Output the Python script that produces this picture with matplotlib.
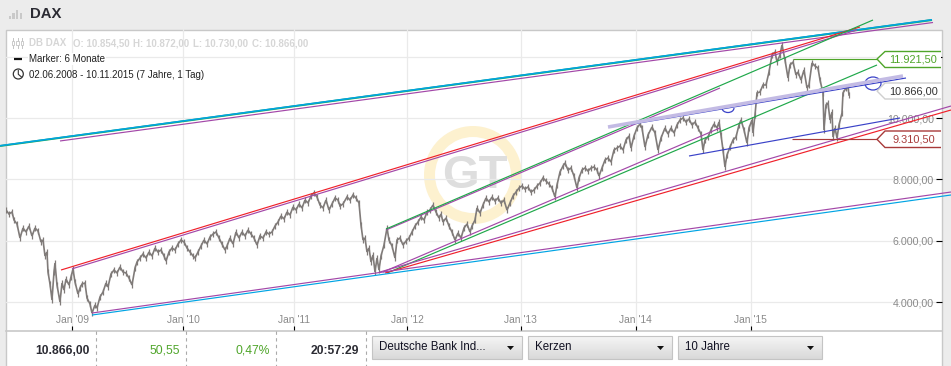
"""DAX 2008-2015 chart with hand drawn trend channels."""
import matplotlib
matplotlib.use('Agg')
import matplotlib.pyplot as plt
import matplotlib.patches as mpatches
import numpy as np

plt.rcParams['font.family'] = ['Liberation Sans', 'DejaVu Sans']

# --- Price series, x is position on the session axis ---
sessions = [
    0, 6, 12, 16, 22, 28, 34, 40, 46, 52, 58, 64, 70, 74, 78, 82, 84, 88, 92, 96,
    98, 102, 108, 112, 116, 120, 126, 130, 134, 138, 144, 148, 152, 158, 162, 168, 172, 178, 182, 188,
    194, 200, 204, 210, 216, 222, 228, 234, 240, 246, 252, 258, 262, 268, 274, 280, 286, 292, 298, 304,
    310, 316, 320, 326, 332, 338, 344, 350, 356, 362, 368, 374, 378, 384, 390, 396, 402, 408, 414, 420,
    426, 432, 438, 442, 448, 454, 460, 466, 472, 478, 484, 490, 496, 502, 508, 514, 520, 526, 532, 538,
    544, 550, 556, 562, 568, 574, 580, 586, 592, 598, 604, 610, 616, 622, 628, 634, 640, 646, 652, 658,
    664, 668, 674, 682, 688, 694, 700, 706, 710, 714, 718, 722, 726, 730, 734, 738, 742, 746, 750, 756,
    762, 766, 772, 778, 782, 788, 794, 800, 806, 812, 818, 824, 830, 836, 842, 848, 854, 860, 866, 870,
    874, 880, 886, 892, 898, 904, 910, 916, 922, 928, 932, 938, 942, 948, 954, 960, 966, 972, 978, 984,
    990, 996, 1002, 1008, 1014, 1020, 1026, 1032, 1038, 1044, 1050, 1056, 1062, 1068, 1074, 1080, 1086, 1092, 1098, 1102,
    1108, 1114, 1118, 1124, 1130, 1136, 1142, 1146, 1152, 1158, 1164, 1170, 1176, 1182, 1186, 1192, 1198, 1204, 1210, 1216,
    1222, 1228, 1234, 1240, 1246, 1250, 1256, 1262, 1268, 1272, 1278, 1284, 1292, 1298, 1304, 1310, 1318, 1324, 1330, 1336,
    1342, 1348, 1354, 1360, 1366, 1372, 1378, 1384, 1390, 1394, 1398, 1404, 1410, 1416, 1422, 1426, 1430, 1434, 1438, 1442,
    1448, 1454, 1460, 1466, 1470, 1476, 1482, 1486, 1492, 1494, 1498, 1502, 1508, 1514, 1520, 1526, 1532, 1538, 1542, 1548,
    1552, 1558, 1564, 1568, 1574, 1580, 1584, 1590, 1596, 1602, 1606, 1612, 1618, 1624, 1628, 1634, 1636, 1640, 1644, 1648,
    1652, 1654, 1658, 1662, 1666, 1672, 1674, 1680, 1684, 1686,
]
closes = [
    7006, 6876, 6941, 6680, 6550, 6094, 6420, 6290, 6485, 6159, 6420, 6322, 5964, 6029, 5508, 5638, 4987, 4596, 4075, 4987,
    5280, 4563, 4010, 4628, 4400, 4759, 4563, 4824, 5085, 4661, 4270, 4466, 4596, 4628, 4140, 3945, 3650, 3912, 3814, 4173,
    4335, 4628, 4498, 4922, 5052, 4954, 5150, 4987, 4954, 4791, 4563, 5117, 5313, 5443, 5573, 5443, 5638, 5508, 5768, 5638,
    5703, 5508, 5345, 5638, 5768, 5703, 5899, 6029, 5964, 5768, 5638, 5508, 5443, 5638, 5833, 6029, 5899, 6127, 6224, 6290,
    6094, 5899, 5703, 5833, 6094, 5899, 6290, 6094, 6290, 6159, 6355, 6224, 6094, 5866, 6159, 6094, 6290, 6224, 6290, 6485,
    6615, 6811, 6713, 6941, 6843, 7104, 7006, 7202, 7072, 7332, 7234, 7462, 7560, 7430, 7169, 7072, 7332, 7006, 7202, 7397,
    7332, 7137, 7202, 7430, 7332, 7495, 7397, 7234, 6517, 6029, 6094, 5638, 5768, 5313, 5541, 4987, 5443, 5052, 5508, 5866,
    6420, 6029, 5833, 5443, 6029, 6094, 5866, 5996, 6094, 6290, 6485, 6615, 6778, 6680, 6941, 7006, 7169, 6941, 6746, 6876,
    6615, 6746, 6485, 6290, 6029, 6257, 6094, 6420, 6550, 6290, 6485, 6680, 7072, 6908, 7169, 7397, 7267, 7430, 7300, 7397,
    7234, 7332, 7006, 7234, 7462, 7593, 7723, 7788, 7690, 7755, 7593, 7658, 7788, 7886, 8049, 7951, 7853, 7723, 7430, 7821,
    8244, 8440, 8537, 8309, 8374, 8114, 7723, 8049, 8309, 8374, 8277, 8374, 8407, 8309, 8114, 8374, 8635, 8700, 8570, 8960,
    9025, 9090, 8960, 9286, 9416, 9025, 9416, 9677, 9808, 9677, 9057, 9449, 9710, 9514, 8960, 9351, 9677, 9481, 9677, 9514,
    9775, 9938, 10003, 9873, 9971, 9775, 9873, 9677, 9481, 8960, 9286, 9384, 9612, 9808, 9677, 9873, 9449, 8960, 8407, 8798,
    9057, 9286, 9384, 9775, 9938, 9612, 9188, 9677, 9938, 9514, 10100, 10817, 10850, 11078, 11078, 11502, 12055, 12152, 11827, 12055,
    12380, 11892, 11306, 11729, 11827, 11404, 11501, 11240, 11566, 10980, 11078, 11795, 11696, 11631, 11240, 10817, 9612, 10426, 10491, 9938,
    10198, 9384, 9677, 9351, 9775, 10166, 10817, 10980, 11013, 10752,
]

# --- Trend lines: start session, end session, start value, end value ---
teal_top = [-12, 1852, 9091, 13194]
purple_top = [108, 1854, 9254, 13113]
red_top = [110, 1708, 5052, 12967]
purple_top2 = [132, 1702, 5090, 12869]
green_upper = [760, 1734, 6387, 13194]
purple_upper = [760, 1428, 6355, 10980]
green_lower = [762, 1742, 4954, 11729]
purple_lower = [754, 1428, 4987, 9677]
red_low = [758, 1890, 4954, 10263]
purple_low = [748, 1890, 4987, 10393]
teal_bottom = [172, 1890, 3586, 7495]
purple_bottom = [172, 1890, 3651, 7592]
blue_upper = [1248, 1800, 9791, 11305]
lavender = [1204, 1794, 9709, 11371]
blue_lower = [1366, 1788, 8765, 10003]
high_line = [1574, 1744, 11921.5, 11921.5]
low_line = [1572, 1744, 9310.5, 9310.5]

year_pos = [132, 354, 576, 802, 1029, 1259, 1489]
year_labels = ["Jan '09", "Jan '10", "Jan '11", "Jan '12", "Jan '13", "Jan '14", "Jan '15"]
y_ticks = [4000, 6000, 8000, 10000, 12000]
y_labels = ['4.000,00', '6.000,00', '8.000,00', '10.000,00', '']

GREY = '#8a8a8a'
GREEN = '#4fa52a'
RED = '#a83a3a'
DARK = '#2b2b33'
PAGE = '#ececec'
EDGE = '#c8c8c8'

W, H = 951, 366
fig = plt.figure(figsize=(W / 100, H / 100), dpi=100, facecolor=PAGE)

# --- Page furniture, in pixels ---
page = fig.add_axes([0, 0, 1, 1], zorder=0)
page.axis('off')
page.add_patch(mpatches.Rectangle((5.5, 29.5), 936.5, 340, fc='white', ec=EDGE, lw=1))
page.plot([5.5, 942], [330.5, 330.5], color=EDGE, lw=1.2)
for x, h in zip([9, 12.3, 16, 20], [3.5, 6.5, 9.5, 6.5]):
    page.add_patch(mpatches.Rectangle((x, 19 - h), 2.4, h, fc='#c9c9c9', ec='none'))
page.text(30, 14, 'DAX', fontsize=10.7, fontweight='bold', color=DARK, va='center')

# watermark
page.add_patch(mpatches.Annulus((473, 175), 49, 11, fc='#fdf1cf', ec='none'))
page.text(475, 176, 'GT', fontsize=34, fontweight='bold', color='#dedede', ha='center', va='center')

# bottom strip
for x in [95.5, 185.5, 275.5, 365.5]:
    page.plot([x, x], [331, 366], color='#aaaaaa', lw=0.8, ls=(0, (3, 3)))
page.text(89.5, 350.5, '10.866,00', fontsize=8.7, fontweight='bold', color=DARK, ha='right', va='center')
page.text(180, 350.5, '50,55', fontsize=8.7, color=GREEN, ha='right', va='center')
page.text(269.5, 350.5, '0,47%', fontsize=8.7, color=GREEN, ha='right', va='center')
page.text(359.5, 350.5, '20:57:29', fontsize=8.7, fontweight='bold', color=DARK, ha='right', va='center')

grad = np.linspace(0.96, 0.85, 32).reshape(-1, 1)
buttons = [(372, 522, 'Deutsche Bank Ind...'), (528, 672, 'Kerzen'), (678, 822, '10 Jahre')]
for left, right, label in buttons:
    page.imshow(grad, extent=(left, right, 359, 336), cmap='gray', vmin=0, vmax=1, aspect='auto', zorder=2)
    page.add_patch(mpatches.Rectangle((left, 336), right - left, 23, fc='none', ec='#c4c4c4', lw=0.8, zorder=3))
    page.text(left + 7, 347.5, label, fontsize=8.3, color='#111122', va='center', zorder=4)
    page.add_patch(mpatches.Polygon([(right - 15, 346), (right - 8, 346), (right - 11.5, 350)],
                                    fc='#111111', ec='none', zorder=4))
page.set_xlim(0, W)
page.set_ylim(H, 0)

# --- Chart area ---
ax = fig.add_axes([6 / W, 1 - 330 / H, 936 / W, 301 / H], zorder=1)
ax.patch.set_alpha(0)
ax.set_xlim(0, 1872)
ax.set_ylim(3098, 12901)
for spine in ax.spines.values():
    spine.set_visible(False)
ax.set_xticks(year_pos)
ax.set_xticklabels(year_labels, fontsize=7.4, color=GREY)
ax.set_yticks(y_ticks)
ax.set_yticklabels(y_labels, fontsize=7.7, color=GREY, ha='right')
ax.yaxis.tick_right()
ax.tick_params(axis='x', direction='in', length=2.9, width=0.8, pad=-10.6, color='black')
ax.tick_params(axis='y', direction='in', length=4.3, width=0.8, pad=-5.8, color='black')
ax.grid(True, color='#eaeaea', lw=0.9)
ax.set_axisbelow(True)


def trend(line, color, lw=0.85, z=3):
    ax.plot(line[:2], line[2:], color=color, lw=lw, zorder=z, clip_on=False, solid_capstyle='butt')


ax.plot(sessions, closes, color='#807b79', lw=1.2, marker='|', ms=4, mew=0.9, zorder=2, solid_joinstyle='miter')

PURPLE = '#a347a8'
RED_L = '#f0202a'
GREEN_L = '#1fa84a'
TEAL = '#00a4e4'
BLUE = '#3a42c8'
trend(purple_top, PURPLE)
trend(teal_top, GREEN_L, lw=1.4)
trend([teal_top[0], teal_top[1], teal_top[2] + 8, teal_top[3] + 8], TEAL, lw=1.15)
trend(purple_top2, PURPLE)
trend(red_top, RED_L)
trend(purple_upper, PURPLE)
trend(green_upper, GREEN_L)
trend(purple_lower, PURPLE)
trend(green_lower, GREEN_L)
trend(purple_low, PURPLE)
trend(red_low, RED_L)
trend(purple_bottom, PURPLE)
trend(teal_bottom, TEAL)
trend(blue_lower, BLUE)
trend(blue_upper, BLUE, z=3)
ax.add_patch(mpatches.Arc((728, 108), 12, 9, theta1=0, theta2=180, ec=BLUE, lw=0.9,
                          transform=page.transData, zorder=3))
ax.add_patch(mpatches.Ellipse((873, 83.5), 16, 13, fc='none', ec=BLUE, lw=0.9, transform=page.transData, zorder=3))
trend(lavender, '#c3bbe4', lw=2.6, z=4)
trend(high_line, GREEN, z=5)
trend(low_line, RED, z=5)


# --- Price labels at the right edge ---
def price_tag(y, text, color, edge, top, bottom):
    tip = (877, y)
    ax.add_patch(mpatches.Polygon([(941, top), (885, top), tip, (885, bottom), (941, bottom)], closed=False,
                                  fc='white', ec=edge, lw=1, transform=page.transData, zorder=6, clip_on=False))
    ax.text(913.5, y, text, fontsize=7.9, color=color, ha='center', va='center', transform=page.transData, zorder=7)


price_tag(59, '11.921,50', GREEN, GREEN, 51.5, 67.5)
price_tag(91, '10.866,00', '#333333', '#cfcfcf', 83, 99)
price_tag(139.3, '9.310,50', RED, RED, 131, 147.5)

# --- Info lines sit above the grid ---
over = fig.add_axes([0, 0, 1, 1], zorder=2)
over.patch.set_alpha(0)
over.axis('off')
for x in [13, 17.5, 22]:
    over.plot([x, x], [38, 48], color='#c4c4c4', lw=0.7)
    over.add_patch(mpatches.Rectangle((x - 1.2, 41), 2.4, 3.5, fc='white', ec='#c4c4c4', lw=0.6, zorder=3))
for x, s in zip([29, 73, 133, 193, 252], ['DB DAX', 'O: 10.854,50', 'H: 10.872,00', 'L: 10.730,00', 'C: 10.866,00']):
    over.text(x, 43, s, fontsize=7.0, fontweight='bold', color='#d6d6d6', va='center')
over.plot([14, 22], [59.3, 59.3], color='#111111', lw=1.6, solid_capstyle='butt')
over.text(29, 59, 'Marker: 6 Monate', fontsize=7.0, color='#222222', va='center',
          bbox=dict(fc='white', ec='none', pad=0.5))
over.add_patch(mpatches.Circle((18.3, 74), 5, fc='white', ec='#333333', lw=0.9))
over.plot([18.3, 18.3, 21.5], [70.5, 74.3, 77], color='#333333', lw=0.8)
over.text(29, 75, '02.06.2008 - 10.11.2015 (7 Jahre, 1 Tag)', fontsize=7.0, color='#222222', va='center')
over.set_xlim(0, W)
over.set_ylim(H, 0)

plt.savefig('out.png', dpi=100, facecolor=PAGE)
plt.close()
